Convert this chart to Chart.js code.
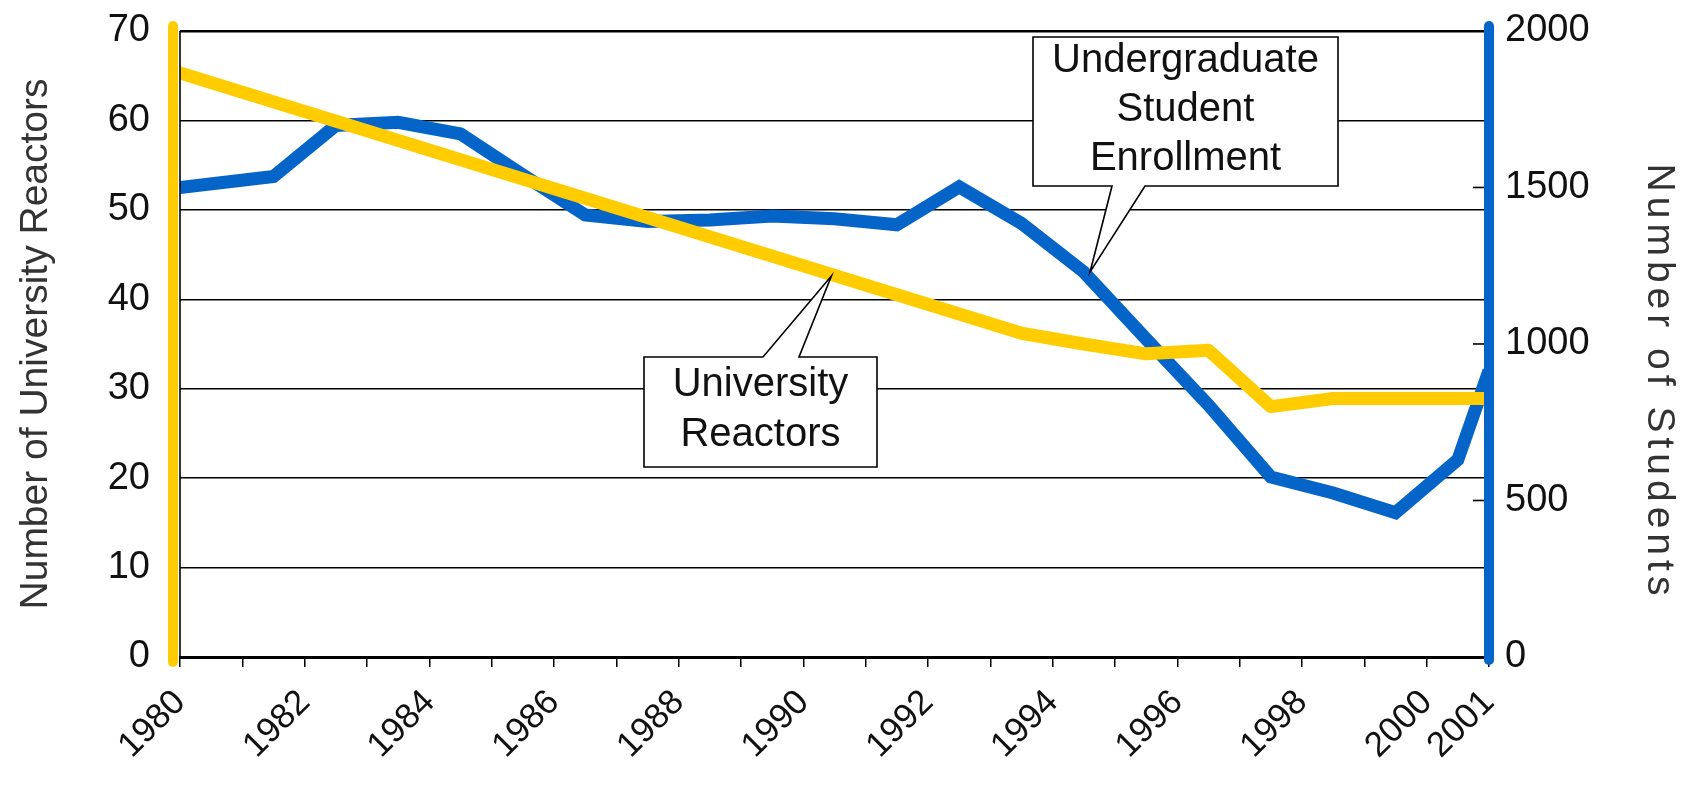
<!DOCTYPE html>
<html>
<head>
<meta charset="utf-8">
<title>University Reactors and Undergraduate Enrollment</title>
<script src="https://cdn.jsdelivr.net/npm/chart.js@4.4.1/dist/chart.umd.min.js"></script>
<style>
  html, body { margin: 0; padding: 0; background: #fff; }
  #chart { display: block; }
</style>
</head>
<body>
<canvas id="chart" width="1685" height="793"></canvas>
<script>
// ============================================================
// Data
// ============================================================

// Undergraduate student enrollment, right axis
const ENROLL_YEARS = [1980, 1981.5, 1982.5, 1983.5, 1984.5, 1985.5, 1986.5, 1987.5,
  1988.5, 1989.5, 1990.5, 1991.5, 1992.5, 1993.5, 1994.5, 1995.5, 1996.5, 1997.5,
  1998.5, 1999.5, 2000.5, 2001];
const ENROLL_STUDENTS = [1500, 1535, 1698, 1708, 1671, 1540, 1412, 1391,
  1396, 1409, 1400, 1381, 1502, 1385, 1230, 1016, 805, 575,
  524, 461, 630, 915];

// Number of university reactors, left axis
const REACTOR_YEARS = [1980, 1993.5, 1994.5, 1995.5, 1996.5, 1997.5, 1998.5, 2001];
const REACTOR_COUNT = [65.3, 36.2, 35.0, 33.9, 34.3, 28.0, 28.9, 28.9];

// Axis ranges and which year ticks carry a label
const YEAR_MIN = 1980;
const YEAR_MAX = 2001;
const LABELED_YEARS = [1980, 1982, 1984, 1986, 1988, 1990, 1992, 1994, 1996, 1998, 2000, 2001];
const REACTOR_MAX = 70;
const STUDENT_MAX = 2000;

// ============================================================
// Styling
// ============================================================

const BLUE = '#0564c8';
const YELLOW = '#ffcc00';
const FONT = '"Liberation Sans", Arial, sans-serif';

// callouts: text, the data point the pointer touches, and the box in canvas pixels
const CALLOUTS = [
  {
    lines: ['Undergraduate', 'Student', 'Enrollment'],
    axis: 'yR', anchorX: 1994.6, anchorY: 1230,
    box: { left: 1033, top: 37, right: 1338, bottom: 186 },
    side: 'bottom', base: [1112, 1145],
    lineY: [24, 73, 122],
  },
  {
    lines: ['University', 'Reactors'],
    axis: 'yL', anchorX: 1990.45, anchorY: 42.6,
    box: { left: 644, top: 357, right: 877, bottom: 467 },
    side: 'top', base: [763, 799],
    lineY: [28, 78],
  },
];

Chart.defaults.font.family = FONT;

// ============================================================
// Plugins
// ============================================================

// coloured axis bars, right-hand tick marks and the right axis title
const axisBars = {
  id: 'axisBars',
  afterDatasetsDraw(chart) {
    const { ctx, chartArea: a } = chart;
    const yR = chart.scales.yR;
    ctx.save();

    // black frame line on the left edge
    ctx.strokeStyle = '#000';
    ctx.lineWidth = 1.6;
    ctx.beginPath();
    ctx.moveTo(a.left, a.top);
    ctx.lineTo(a.left, a.bottom);
    ctx.stroke();

    // right axis tick marks (inside)
    yR.ticks.forEach(t => {
      const y = yR.getPixelForValue(t.value);
      ctx.beginPath();
      ctx.moveTo(a.right - 16, y);
      ctx.lineTo(a.right, y);
      ctx.stroke();
    });

    ctx.lineCap = 'round';
    ctx.lineWidth = 10;

    ctx.strokeStyle = YELLOW;
    ctx.beginPath();
    ctx.moveTo(a.left - 7, a.top - 5);
    ctx.lineTo(a.left - 7, a.bottom + 5);
    ctx.stroke();

    ctx.strokeStyle = BLUE;
    ctx.beginPath();
    ctx.moveTo(a.right, a.top - 5);
    ctx.lineTo(a.right, a.bottom + 3);
    ctx.stroke();

    // right axis title, drawn by hand for its wide letter spacing
    ctx.translate(yR.right - 26, (a.top + a.bottom) / 2 + 38);
    ctx.rotate(Math.PI / 2);
    ctx.fillStyle = '#333';
    ctx.font = '39px ' + FONT;
    if ('letterSpacing' in ctx) ctx.letterSpacing = '5px';
    ctx.textAlign = 'center';
    ctx.textBaseline = 'middle';
    ctx.fillText('Number of Students', 0, 0);

    ctx.restore();
  },
};

function drawCallout(ctx, chart, c) {
  const tipX = chart.scales.x.getPixelForValue(c.anchorX);
  const tipY = chart.scales[c.axis].getPixelForValue(c.anchorY);
  const b = c.box;

  ctx.beginPath();
  if (c.side === 'bottom') {
    ctx.moveTo(b.left, b.top);
    ctx.lineTo(b.right, b.top);
    ctx.lineTo(b.right, b.bottom);
    ctx.lineTo(c.base[1], b.bottom);
    ctx.lineTo(tipX, tipY);
    ctx.lineTo(c.base[0], b.bottom);
    ctx.lineTo(b.left, b.bottom);
  } else {
    ctx.moveTo(b.left, b.top);
    ctx.lineTo(c.base[0], b.top);
    ctx.lineTo(tipX, tipY);
    ctx.lineTo(c.base[1], b.top);
    ctx.lineTo(b.right, b.top);
    ctx.lineTo(b.right, b.bottom);
    ctx.lineTo(b.left, b.bottom);
  }
  ctx.closePath();
  ctx.fillStyle = '#fff';
  ctx.fill();
  ctx.strokeStyle = '#000';
  ctx.lineWidth = 1.6;
  ctx.lineJoin = 'miter';
  ctx.stroke();

  ctx.fillStyle = '#111';
  ctx.font = '40px ' + FONT;
  ctx.textAlign = 'center';
  ctx.textBaseline = 'middle';
  const cx = (b.left + b.right) / 2;
  c.lines.forEach((line, i) => ctx.fillText(line, cx, b.top + c.lineY[i]));
}

const callouts = {
  id: 'callouts',
  afterDraw(chart) {
    const { ctx } = chart;
    ctx.save();
    CALLOUTS.forEach(c => drawCallout(ctx, chart, c));
    ctx.restore();
  },
};

// ============================================================
// Chart
// ============================================================

function toPoints(xs, ys) {
  return xs.map((x, i) => ({ x, y: ys[i] }));
}

new Chart(document.getElementById('chart'), {
  type: 'line',
  data: {
    datasets: [
      {
        label: 'University Reactors',
        data: toPoints(REACTOR_YEARS, REACTOR_COUNT),
        yAxisID: 'yL',
        borderColor: YELLOW,
        borderWidth: 13,
        borderCapStyle: 'round',
        borderJoinStyle: 'round',
        pointRadius: 0,
        tension: 0,
        order: 0,
      },
      {
        label: 'Undergraduate Student Enrollment',
        data: toPoints(ENROLL_YEARS, ENROLL_STUDENTS),
        yAxisID: 'yR',
        borderColor: BLUE,
        borderWidth: 13,
        borderJoinStyle: 'miter',
        pointRadius: 0,
        tension: 0,
        order: 1,
      },
    ],
  },
  options: {
    responsive: false,
    animation: false,
    layout: { autoPadding: false, padding: { top: 23, left: 0, right: 0, bottom: 0 } },
    plugins: {
      legend: { display: false },
      tooltip: { enabled: false },
    },
    scales: {
      x: {
        type: 'linear',
        min: YEAR_MIN,
        max: YEAR_MAX,
        afterFit: s => { s.height = 136; },
        grid: {
          drawOnChartArea: false,
          drawTicks: true,
          tickLength: 10,
          color: '#000',
          lineWidth: 1.5,
        },
        border: { display: true, color: '#000', width: 3 },
        ticks: {
          stepSize: 1,
          autoSkip: false,
          maxRotation: 45,
          minRotation: 45,
          padding: 15,
          color: '#111',
          font: { size: 35 },
          callback: v => LABELED_YEARS.includes(v) ? String(v) : '',
        },
      },
      yL: {
        position: 'left',
        min: 0,
        max: REACTOR_MAX,
        afterFit: s => { s.width = 180; },
        grid: {
          color: '#000',
          lineWidth: ctx => ctx.tick && ctx.tick.value === REACTOR_MAX ? 2.5 : 1.5,
          drawTicks: false,
        },
        border: { display: false },
        ticks: {
          stepSize: 10,
          padding: 30,
          color: '#111',
          font: { size: 38, lineHeight: 0.05 },
        },
        title: {
          display: true,
          text: 'Number of University Reactors',
          color: '#333',
          font: { size: 39 },
          padding: { top: 13, bottom: 0 },
        },
      },
      yR: {
        position: 'right',
        min: 0,
        max: STUDENT_MAX,
        afterFit: s => { s.width = 196; },
        grid: { display: false, drawTicks: false },
        border: { display: false },
        ticks: {
          stepSize: 500,
          padding: 16,
          color: '#111',
          font: { size: 38, lineHeight: 0.05 },
          callback: v => String(v),
        },
      },
    },
  },
  plugins: [axisBars, callouts],
});
</script>
</body>
</html>
